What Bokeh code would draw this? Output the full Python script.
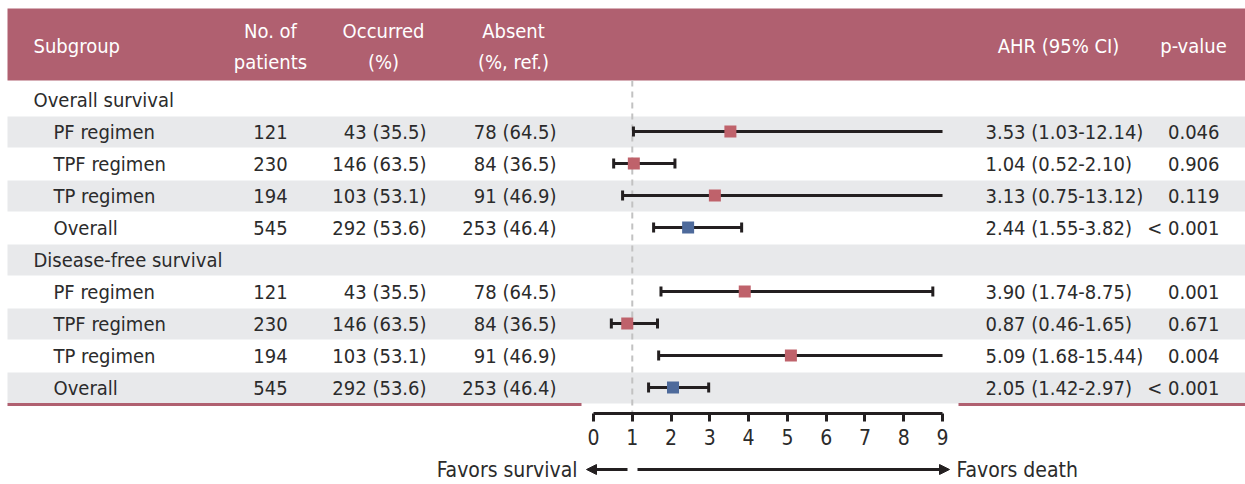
from bokeh.plotting import figure
from bokeh.models import (Range1d, LinearAxis, FixedTicker, Arrow, NormalHead,
                          ColumnDataSource)
from bokeh.core.properties import value
from bokeh.embed import file_html
from bokeh.resources import INLINE

# ---- data -------------------------------------------------------------
sections = ["Overall survival", "Disease-free survival"]
subgroups = ["PF regimen", "TPF regimen", "TP regimen", "Overall"]
n_patients = [121, 230, 194, 545]
occurred_n = [43, 146, 103, 292]
occurred_pct = [35.5, 63.5, 53.1, 53.6]
absent_n = [78, 84, 91, 253]
absent_pct = [64.5, 36.5, 46.9, 46.4]

os_ahr = [3.53, 1.04, 3.13, 2.44]
os_lo = [1.03, 0.52, 0.75, 1.55]
os_hi = [12.14, 2.10, 13.12, 3.82]
os_p = ["0.046", "0.906", "0.119", "< 0.001"]

dfs_ahr = [3.90, 0.87, 5.09, 2.05]
dfs_lo = [1.74, 0.46, 1.68, 1.42]
dfs_hi = [8.75, 1.65, 15.44, 2.97]
dfs_p = ["0.001", "0.671", "0.004", "< 0.001"]

axis_ticks = [0, 1, 2, 3, 4, 5, 6, 7, 8, 9]
axis_max = 9

# ---- style ------------------------------------------------------------
FONT = "'DejaVu Sans Condensed', 'Liberation Sans Narrow', sans-serif"
TXT = "#2b2b2b"
HEAD = "#b06070"
BAND = "#e8e9eb"
RED = "#bf626b"
BLUE = "#4e6a9b"
LINE = "#231f20"
FS = "20px"

W, H = 1245, 484
X0_PX, UNIT_PX = 593.0, 38.78   # where HR=0 sits and px per HR unit

p = figure(width=W, height=H, x_range=Range1d(0, W), y_range=Range1d(H, 0),
           output_backend="svg", toolbar_location=None,
           x_axis_location=None, y_axis_location=None, min_border=0)
p.grid.visible = False
p.outline_line_color = None
p.extra_x_ranges = {"hr": Range1d(-X0_PX / UNIT_PX, (W - X0_PX) / UNIT_PX)}

# ---- rows ---------------------------------------------------------------
TOP0, ROW_H = 83, 32
labels, label_x, ys = [], [], []
ahr, lo, hi, colors = [], [], [], []
col_n, col_occ, col_abs, col_ci, col_p, sub_y = [], [], [], [], [], []
sec_data = [(os_ahr, os_lo, os_hi, os_p), (dfs_ahr, dfs_lo, dfs_hi, dfs_p)]
r = 0
for s, (a, l, h, pv) in zip(sections, sec_data):
    labels.append(s); label_x.append(33); ys.append(TOP0 + ROW_H * (r + 0.5)); r += 1
    for k, g in enumerate(subgroups):
        yc = TOP0 + ROW_H * (r + 0.5)
        labels.append(g); label_x.append(53); ys.append(yc)
        sub_y.append(yc)
        col_n.append(str(n_patients[k]))
        col_occ.append(f"{occurred_n[k]} ({occurred_pct[k]:.1f})")
        col_abs.append(f"{absent_n[k]} ({absent_pct[k]:.1f})")
        col_ci.append(f"{a[k]:.2f} ({l[k]:.2f}-{h[k]:.2f})")
        col_p.append(pv[k])
        ahr.append(a[k]); lo.append(l[k]); hi.append(h[k])
        colors.append(BLUE if g == "Overall" else RED)
        r += 1
n_rows = r

# striped background
band_tops = [TOP0 + ROW_H * i + 1 for i in range(n_rows) if i % 2 == 1]
p.quad(left=7, right=W, top=band_tops, bottom=[t + ROW_H - 1 for t in band_tops],
       fill_color=BAND, line_color=None)

# header bar
p.quad(left=7, right=W, top=8, bottom=80, fill_color=HEAD, line_color=None)

# bottom rule
bottom_y = TOP0 + ROW_H * n_rows + 1
p.segment(x0=[7, 958], x1=[581, W], y0=bottom_y, y1=bottom_y,
          line_color=HEAD, line_width=3)

# reference line at HR = 1
p.segment(x0=1, x1=1, y0=80, y1=413, x_range_name="hr",
          line_color="#c2c2c2", line_width=2, line_dash="6 5")

# ---- header text -------------------------------------------------------
hdr = dict(text_color="white", text_font=value(FONT), text_font_size="20px",
           text_baseline="middle")
p.text(x=[33], y=[45], text=["Subgroup"], text_align="left", **hdr)
p.text(x=[270, 270, 383, 383, 513, 513, 1058, 1193],
       y=[30, 61, 30, 61, 30, 61, 45, 45],
       text=["No. of", "patients", "Occurred", "(%)", "Absent", "(%, ref.)",
             "AHR (95% CI)", "p-value"],
       text_align="center", **hdr)

# ---- body text ---------------------------------------------------------
body = dict(text_color=TXT, text_font=value(FONT), text_font_size=FS,
            text_baseline="middle")
p.text(x=label_x, y=ys, text=labels, text_align="left", **body)
p.text(x=270, y=sub_y, text=col_n, text_align="center", **body)
p.text(x=426, y=sub_y, text=col_occ, text_align="right", **body)
p.text(x=556, y=sub_y, text=col_abs, text_align="right", **body)
p.text(x=985, y=sub_y, text=col_ci, text_align="left", **body)
p.text(x=1219, y=sub_y, text=col_p, text_align="right", **body)

# ---- forest marks ------------------------------------------------------
hi_clip = [min(v, axis_max) for v in hi]
src = ColumnDataSource(dict(y=sub_y, ahr=ahr, lo=lo, hi=hi_clip, c=colors))
p.segment(x0="lo", x1="hi", y0="y", y1="y", source=src, x_range_name="hr",
          line_color=LINE, line_width=3)
cap_x = lo + [v for v in hi if v <= axis_max]
cap_y = sub_y + [y for v, y in zip(hi, sub_y) if v <= axis_max]
p.segment(x0=cap_x, x1=cap_x, y0=[y - 5 for y in cap_y], y1=[y + 5 for y in cap_y],
          x_range_name="hr", line_color=LINE, line_width=3)
p.scatter(x="ahr", y="y", source=src, x_range_name="hr", marker="square",
          size=12, fill_color="c", line_color=None)

# ---- HR axis -----------------------------------------------------------
ax = LinearAxis(x_range_name="hr", fixed_location=413, bounds=(0, axis_max),
                ticker=FixedTicker(ticks=axis_ticks))
ax.axis_line_color = LINE
ax.axis_line_width = 3
ax.major_tick_line_color = LINE
ax.major_tick_line_width = 3
ax.major_tick_out = 8
ax.major_tick_in = 0
ax.minor_tick_line_color = None
ax.major_label_text_font = FONT
ax.major_label_text_font_size = "21px"
ax.major_label_text_color = TXT
ax.major_label_standoff = 7
p.add_layout(ax, "below")

# ---- direction arrows --------------------------------------------------
arr_y = 469
p.add_layout(Arrow(end=NormalHead(size=10, fill_color=LINE, line_color=LINE),
                   x_start=627, y_start=arr_y, x_end=586, y_end=arr_y,
                   line_color=LINE, line_width=3))
p.add_layout(Arrow(end=NormalHead(size=10, fill_color=LINE, line_color=LINE),
                   x_start=637, y_start=arr_y, x_end=949, y_end=arr_y,
                   line_color=LINE, line_width=3))
p.text(x=[577], y=[arr_y], text=["Favors survival"], text_align="right",
       text_color=TXT, text_font=value(FONT), text_font_size="21px",
       text_baseline="middle")
p.text(x=[956], y=[arr_y], text=["Favors death"], text_align="left",
       text_color=TXT, text_font=value(FONT), text_font_size="21px",
       text_baseline="middle")

open("out.html", "w").write(file_html(p, INLINE))
